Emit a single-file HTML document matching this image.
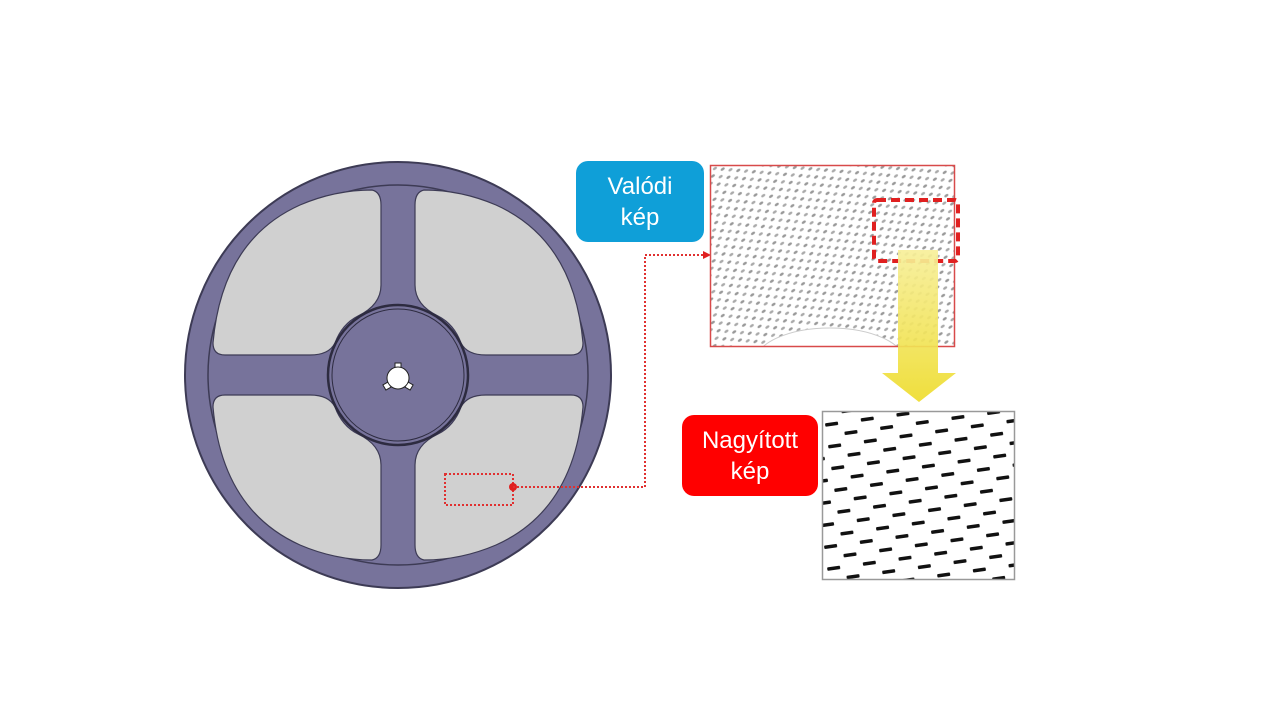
<!DOCTYPE html>
<html><head><meta charset="utf-8"><style>
html,body{margin:0;padding:0;background:#fff;width:1280px;height:720px;overflow:hidden;font-family:"Liberation Sans",sans-serif}
.box{position:absolute;color:#fff;font-size:24px;line-height:31px;text-align:center;display:flex;align-items:center;justify-content:center;border-radius:12px}
</style></head><body>
<svg width="1280" height="720" style="position:absolute;left:0;top:0">
<defs>
<pattern id="dots" width="12" height="10" patternUnits="userSpaceOnUse" patternTransform="rotate(-35)">
<ellipse cx="3" cy="3" rx="2.3" ry="1.3" fill="#999"/>
<ellipse cx="9" cy="8" rx="2.3" ry="1.3" fill="#aaa"/>
</pattern>
<pattern id="dash" width="36" height="22" patternUnits="userSpaceOnUse" patternTransform="rotate(-8)">
<rect x="2" y="6" width="13" height="3.5" rx="1" fill="#111"/>
<rect x="20" y="17" width="13" height="3.5" rx="1" fill="#111"/>
</pattern>
<linearGradient id="yg" x1="0" y1="0" x2="0" y2="1"><stop offset="0" stop-color="#f7ef9a"/><stop offset="1" stop-color="#eedc2c"/></linearGradient>
<clipPath id="c1"><rect x="711" y="166" width="243" height="180"/></clipPath>
<clipPath id="c2"><rect x="823" y="412" width="191" height="167"/></clipPath>
</defs>
<circle cx="398" cy="375" r="213" fill="#77739b" stroke="#3d3b55" stroke-width="2"/>
<circle cx="398" cy="375" r="190" fill="none" stroke="#3d3b55" stroke-width="1.5"/>
<g fill="#d0d0d0" stroke="#3d3b55" stroke-width="1.2">
<path d="M372,190 Q381,192 381,205 L381,285 Q381,305 358,316 Q342,324 335,343 Q329,355 310,355 L225,355 Q213,355 213,343 Q222,240 300,205 Q335,190 372,190Z"/>
<path d="M424,190 Q415,192 415,205 L415,285 Q415,305 438,316 Q454,324 461,343 Q467,355 486,355 L571,355 Q583,355 583,343 Q574,240 496,205 Q461,190 424,190Z"/>
<path d="M372,560 Q381,558 381,545 L381,465 Q381,445 358,434 Q342,426 335,407 Q329,395 310,395 L225,395 Q213,395 213,407 Q222,510 300,545 Q335,560 372,560Z"/>
<path d="M424,560 Q415,558 415,545 L415,465 Q415,445 438,434 Q454,426 461,407 Q467,395 486,395 L571,395 Q583,395 583,407 Q574,510 496,545 Q461,560 424,560Z"/>
</g>
<circle cx="398" cy="375" r="70" fill="#77739b" stroke="#2d2b40" stroke-width="2.5"/>
<circle cx="398" cy="375" r="66" fill="none" stroke="#2d2b40" stroke-width="1"/>
<rect x="395" y="363" width="6" height="8" fill="#fff" stroke="#222"/>
<rect x="384" y="383" width="6" height="6" fill="#fff" stroke="#222" transform="rotate(-30 387 386)"/>
<rect x="406" y="383" width="6" height="6" fill="#fff" stroke="#222" transform="rotate(30 409 386)"/>
<circle cx="398" cy="378" r="11" fill="#fff" stroke="#222"/>
<circle cx="398" cy="378" r="10" fill="#fff"/>
<rect x="445" y="474" width="68" height="31" fill="none" stroke="#e03030" stroke-width="2" stroke-dasharray="2,2"/>
<circle cx="513" cy="487" r="4" fill="#e02020"/>
<polyline points="513,487 645,487 645,255 704,255" fill="none" stroke="#e03030" stroke-width="2" stroke-dasharray="2,2"/>
<polygon points="703,251 711,255 703,259" fill="#e02020"/>
<rect x="711" y="166" width="243" height="180" fill="#fff"/>
<g clip-path="url(#c1)"><rect x="711" y="166" width="243" height="180" fill="url(#dots)"/>
<ellipse cx="830" cy="362" rx="75" ry="34" fill="#fff" stroke="#ccc"/></g>
<rect x="710.5" y="165.5" width="244" height="181" fill="none" stroke="#d84a4a" stroke-width="1.5"/>
<rect x="874" y="200" width="84" height="61" rx="3" fill="none" stroke="#e02020" stroke-width="4" stroke-dasharray="9,5"/>
<polygon points="898,250 938,250 938,373 956,373 919,402 882,373 898,373" fill="url(#yg)" opacity="0.92"/>
<rect x="823" y="412" width="191" height="167" fill="#fff"/>
<g clip-path="url(#c2)"><rect x="800" y="390" width="240" height="210" fill="url(#dash)"/></g>
<rect x="822.5" y="411.5" width="192" height="168" fill="none" stroke="#999" stroke-width="1.5"/>
</svg>
<div class="box" style="left:576px;top:161px;width:128px;height:81px;background:#0f9fd8">Valódi<br>kép</div>
<div class="box" style="left:682px;top:415px;width:136px;height:81px;background:#ff0000">Nagyított<br>kép</div>
</body></html>
